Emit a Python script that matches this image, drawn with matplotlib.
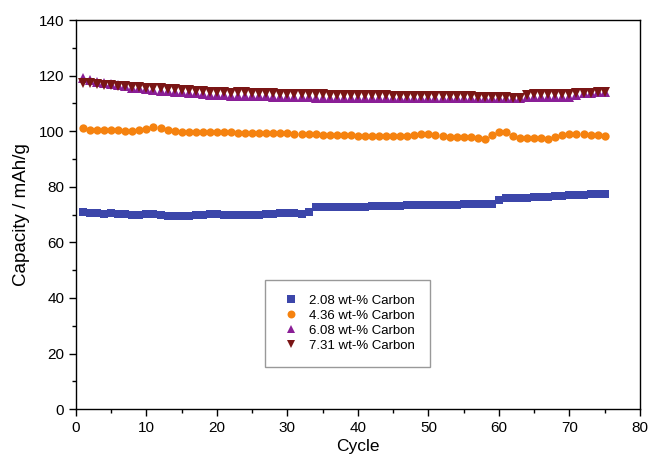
#!/usr/bin/env python3

import numpy as np
import matplotlib.pyplot as plt
from matplotlib.ticker import MultipleLocator

plt.rcParams['font.family'] = ['Liberation Sans', 'DejaVu Sans']

cycles = np.arange(1, 76)

cap_208 = [70.8, 70.7, 70.6, 70.2, 70.6, 70.3, 70.2, 70.0, 70.0, 70.2,
           70.2, 70.0, 69.6, 69.5, 69.5, 69.6, 69.9, 70.0, 70.2, 70.2,
           70.0, 69.8, 69.8, 69.9, 69.9, 70.0, 70.2, 70.2, 70.4, 70.4,
           70.6, 70.3, 70.8, 72.6, 72.6, 72.6, 72.7, 72.7, 72.8, 72.9,
           72.9, 73.0, 73.0, 73.1, 73.2, 73.2, 73.3, 73.4, 73.4, 73.5,
           73.5, 73.5, 73.6, 73.6, 73.7, 73.8, 73.8, 73.9, 73.9, 75.3,
           75.9, 76.0, 76.0, 76.1, 76.2, 76.3, 76.5, 76.6, 76.8, 76.9,
           77.2, 77.2, 77.3, 77.3, 77.5]

cap_436 = [101.0, 100.6, 100.4, 100.3, 100.3, 100.3, 100.2, 100.2, 100.5, 100.9,
           101.5, 101.3, 100.3, 100.0, 99.9, 99.9, 99.8, 99.8, 99.7, 99.7,
           99.6, 99.6, 99.5, 99.5, 99.5, 99.4, 99.4, 99.3, 99.3, 99.2,
           99.1, 99.0, 99.0, 98.9, 98.8, 98.7, 98.6, 98.5, 98.5, 98.4,
           98.3, 98.3, 98.2, 98.2, 98.2, 98.3, 98.4, 98.7, 98.9, 98.9,
           98.7, 98.4, 98.0, 97.8, 97.8, 97.8, 97.7, 97.3, 98.5, 99.6,
           99.6, 98.4, 97.6, 97.4, 97.4, 97.4, 97.3, 97.9, 98.5, 99.0,
           99.1, 98.9, 98.7, 98.5, 98.2]

cap_608 = [119.0, 118.3, 117.8, 117.3, 116.9, 116.5, 116.1, 115.7, 115.4, 115.1,
           114.8, 114.6, 114.4, 114.2, 114.0, 113.8, 113.6, 113.4, 113.2, 113.0,
           112.9, 112.8, 112.7, 112.7, 112.6, 112.6, 112.5, 112.4, 112.3, 112.2,
           112.2, 112.2, 112.2, 112.1, 112.1, 112.0, 112.0, 112.0, 112.0, 112.0,
           111.9, 111.9, 112.0, 112.0, 112.0, 111.9, 111.9, 111.9, 112.0, 112.0,
           111.9, 111.9, 111.9, 111.9, 111.8, 111.8, 111.8, 111.8, 111.8, 111.8,
           111.8, 111.8, 111.8, 112.3, 112.3, 112.3, 112.3, 112.3, 112.3, 112.4,
           113.2, 113.6, 113.8, 114.0, 114.0]

cap_731 = [117.5, 117.3, 117.0, 116.8, 116.6, 116.4, 116.2, 116.0, 115.8, 115.7,
           115.6, 115.5, 115.3, 115.2, 115.0, 114.9, 114.6, 114.4, 114.2, 114.1,
           114.0, 113.9, 114.0, 114.0, 113.9, 113.8, 113.7, 113.6, 113.5, 113.4,
           113.4, 113.5, 113.4, 113.3, 113.3, 113.2, 113.1, 113.1, 113.0, 113.0,
           113.0, 112.9, 112.9, 112.9, 112.8, 112.8, 112.8, 112.7, 112.7, 112.7,
           112.7, 112.6, 112.6, 112.6, 112.5, 112.5, 112.4, 112.3, 112.2, 112.2,
           112.2, 112.1, 112.1, 113.2, 113.3, 113.3, 113.3, 113.3, 113.4, 113.4,
           113.6, 113.8, 113.9, 114.0, 114.0]

labels = ['2.08 wt-% Carbon', '4.36 wt-% Carbon', '6.08 wt-% Carbon', '7.31 wt-% Carbon']

fig = plt.figure(figsize=(6.49, 4.67), dpi=100)
ax = fig.add_axes([0.117, 0.124, 0.869, 0.833])

ax.plot(cycles, cap_208, 's', color='#3c46aa', ms=5.5, mew=0, label=labels[0])
ax.plot(cycles, cap_436, 'o', color='#f5820f', ms=6, mew=0, label=labels[1])
ax.plot(cycles, cap_608, '^', color='#8a1e96', ms=6.5, mew=0, label=labels[2])
ax.plot(cycles, cap_731, 'v', color='#7a1515', ms=6.5, mew=0, label=labels[3])

ax.set_xlim(0, 80)
ax.set_ylim(0, 140)
ax.xaxis.set_major_locator(MultipleLocator(10))
ax.xaxis.set_minor_locator(MultipleLocator(5))
ax.yaxis.set_major_locator(MultipleLocator(20))
ax.yaxis.set_minor_locator(MultipleLocator(10))
ax.tick_params(which='both', direction='out', top=False, right=False, labelsize=11)
ax.tick_params(which='major', length=5, width=1)
ax.tick_params(which='minor', length=3, width=1)
for s in ax.spines.values():
    s.set_linewidth(1)

ax.set_xlabel('Cycle', fontsize=12.5, labelpad=3)
ax.set_ylabel('Capacity / mAh/g', fontsize=13.5, labelpad=6)

leg = ax.legend(loc='upper left', bbox_to_anchor=(0.335, 0.333), fontsize=9.5,
                frameon=True, fancybox=False, edgecolor='#808080',
                handletextpad=0.5, borderpad=1.15, labelspacing=0.2,
                borderaxespad=0, handlelength=1.7, markerscale=0.95)
leg.get_frame().set_linewidth(1)

fig.savefig('out.png', dpi=100)
